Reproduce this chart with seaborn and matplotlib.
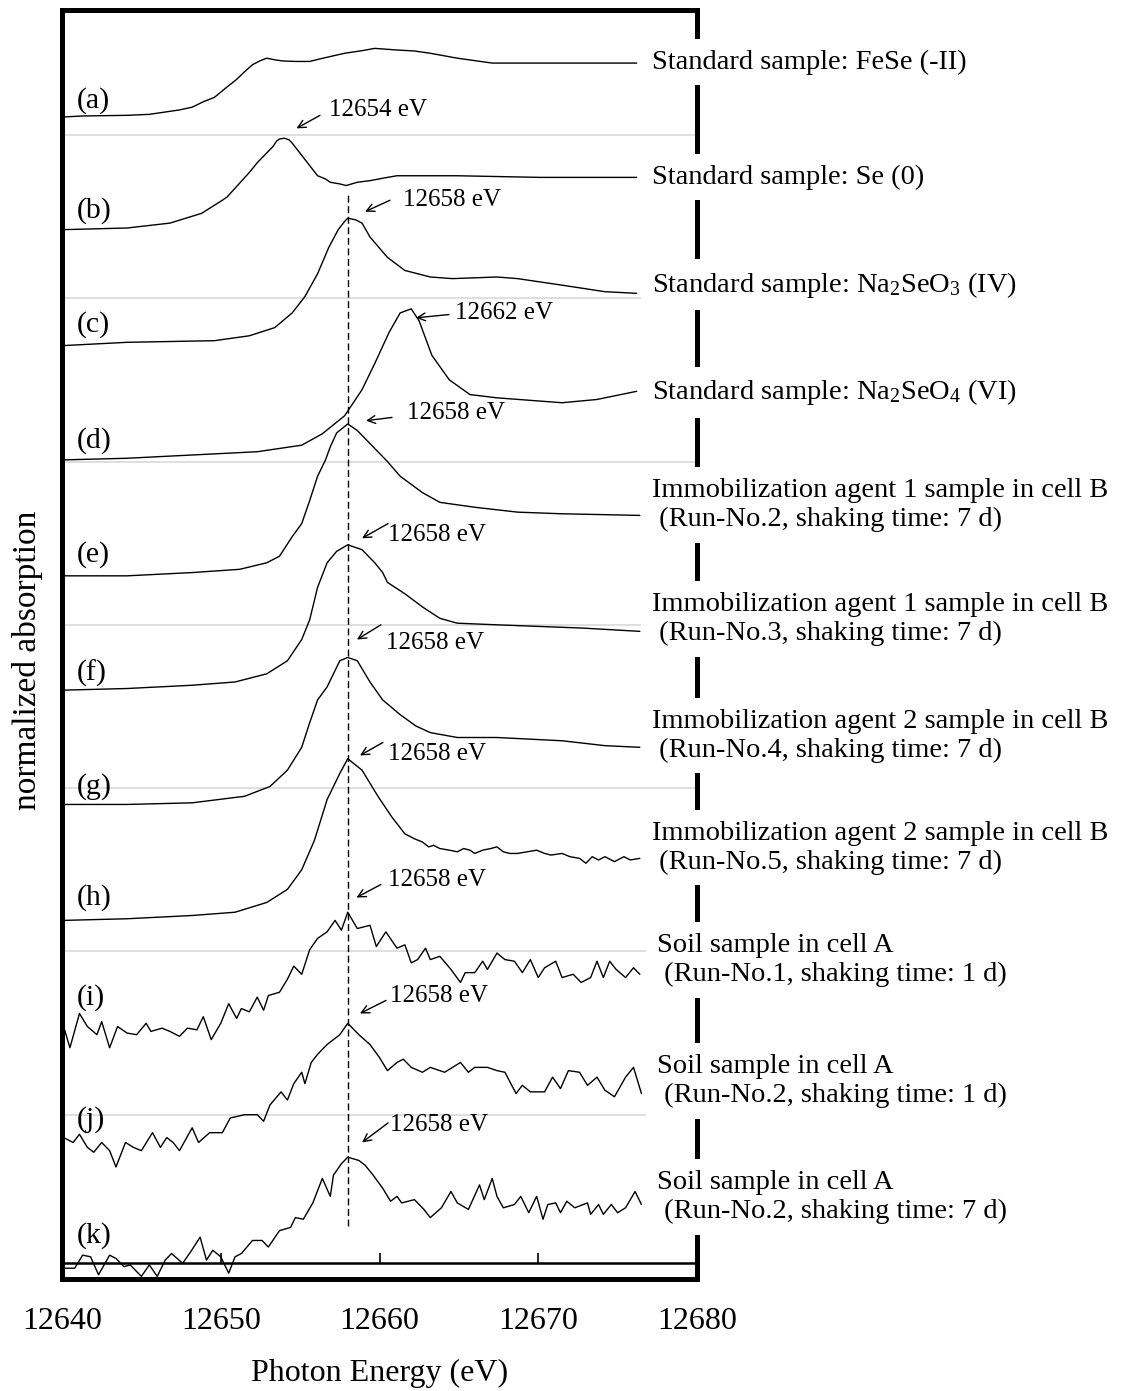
import matplotlib
matplotlib.use("Agg")
import matplotlib.pyplot as plt
import pandas as pd
import seaborn as sns

# ---------------------------------------------------------------------------
# Se K-edge XANES spectra (photon energy in eV, normalized absorption
# measured from each trace's own pre-edge baseline)
# ---------------------------------------------------------------------------
trace_ids = ["a", "b", "c", "d", "e", "f", "g", "h", "i", "j", "k"]
trace_offsets = [7.1, 6.4, 5.7, 5.0, 4.3, 3.6, 2.9, 2.2, 1.5, 0.8, 0.1]

energy_a = [12640.1, 12641.3, 12644.1, 12645.5, 12647.4, 12648.2, 12648.9, 12649.6,
            12650.3, 12651.0, 12651.5, 12652.0, 12652.5, 12652.9, 12653.4, 12653.9,
            12654.7, 12655.6, 12656.4, 12657.8, 12658.9, 12659.7, 12661.1, 12662.2,
            12663.2, 12664.9, 12666.0, 12667.1, 12676.2]
absorb_a = [0.01, 0.016, 0.02, 0.026, 0.053, 0.07, 0.103, 0.13,
            0.186, 0.24, 0.287, 0.33, 0.355, 0.37, 0.36, 0.353,
            0.35, 0.35, 0.369, 0.40, 0.416, 0.43, 0.42, 0.414,
            0.40, 0.37, 0.355, 0.34, 0.34]

energy_b = [12640.1, 12644.1, 12646.8, 12648.8, 12650.1, 12650.4, 12651.8, 12652.3,
            12652.9, 12653.3, 12653.5, 12653.7, 12654.0, 12654.3, 12654.5, 12654.9,
            12655.3, 12655.7, 12656.1, 12656.6, 12656.9, 12657.5, 12657.9, 12658.6,
            12659.4, 12660.5, 12661.1, 12664.9, 12670.1, 12676.2]
absorb_b = [0.02, 0.03, 0.06, 0.12, 0.20, 0.22, 0.37, 0.43,
            0.49, 0.53, 0.56, 0.575, 0.58, 0.57, 0.55, 0.50,
            0.45, 0.40, 0.35, 0.33, 0.31, 0.30, 0.29, 0.31,
            0.32, 0.34, 0.35, 0.35, 0.34, 0.34]

energy_c = [12640.1, 12644.1, 12649.6, 12651.8, 12653.4, 12654.5, 12655.3, 12656.1,
            12656.8, 12657.4, 12657.8, 12658.0, 12658.5, 12658.9, 12659.4, 12660.5,
            12661.6, 12663.2, 12664.6, 12667.4, 12668.7, 12671.5, 12674.2, 12676.2]
absorb_c = [0.01, 0.03, 0.04, 0.07, 0.12, 0.21, 0.31, 0.45,
            0.61, 0.72, 0.77, 0.79, 0.78, 0.76, 0.675, 0.55,
            0.47, 0.43, 0.42, 0.43, 0.42, 0.38, 0.34, 0.33]

energy_d = [12640.1, 12644.1, 12648.2, 12652.3, 12655.1, 12656.4, 12657.8, 12658.9,
            12659.7, 12660.6, 12661.3, 12662.0, 12662.5, 12663.3, 12664.4, 12665.7,
            12667.4, 12671.5, 12673.7, 12676.2]
absorb_d = [0.01, 0.02, 0.04, 0.06, 0.10, 0.17, 0.28, 0.44,
            0.60, 0.79, 0.91, 0.935, 0.86, 0.65, 0.50, 0.41,
            0.39, 0.36, 0.38, 0.43]

energy_e = [12640.1, 12644.1, 12648.2, 12651.2, 12652.9, 12653.7, 12654.5, 12655.1,
            12655.6, 12656.1, 12656.6, 12656.9, 12657.3, 12658.0, 12658.6, 12659.4,
            12660.5, 12661.3, 12662.7, 12663.8, 12666.0, 12668.7, 12671.5, 12676.4]
absorb_e = [0.00, 0.00, 0.02, 0.04, 0.08, 0.12, 0.24, 0.32,
            0.46, 0.61, 0.71, 0.79, 0.875, 0.93, 0.89, 0.81,
            0.70, 0.61, 0.51, 0.45, 0.42, 0.39, 0.38, 0.37]

energy_f = [12640.1, 12644.1, 12648.2, 12650.9, 12652.9, 12654.2, 12655.1, 12655.6,
            12656.1, 12656.7, 12657.3, 12658.0, 12658.9, 12659.7, 12660.2, 12660.5,
            12661.6, 12662.7, 12663.8, 12664.9, 12667.4, 12670.1, 12672.8, 12676.4]
absorb_f = [0.00, 0.01, 0.03, 0.05, 0.10, 0.18, 0.31, 0.43,
            0.63, 0.78, 0.85, 0.89, 0.86, 0.78, 0.72, 0.66,
            0.59, 0.51, 0.44, 0.41, 0.40, 0.39, 0.38, 0.36]

energy_g = [12640.1, 12644.1, 12648.2, 12651.5, 12653.1, 12654.2, 12655.1, 12655.6,
            12656.1, 12656.7, 12657.5, 12658.0, 12658.6, 12659.4, 12660.2, 12661.3,
            12662.3, 12663.2, 12664.9, 12667.4, 12671.5, 12674.2, 12676.4]
absorb_g = [0.00, 0.00, 0.01, 0.05, 0.11, 0.21, 0.35, 0.50,
            0.64, 0.72, 0.88, 0.90, 0.88, 0.75, 0.64, 0.55,
            0.48, 0.44, 0.41, 0.41, 0.39, 0.36, 0.35]

energy_h = [12640.1, 12644.1, 12648.2, 12650.9, 12652.9, 12654.2, 12655.1, 12655.9,
            12656.7, 12657.5, 12658.0, 12658.9, 12659.9, 12660.8, 12661.6, 12662.2,
            12662.7, 12663.1, 12663.4, 12663.8, 12664.4, 12664.9, 12665.3, 12665.7,
            12666.0, 12666.5, 12667.0, 12667.4, 12667.8, 12668.2, 12668.7, 12669.3,
            12669.9, 12670.4, 12670.8, 12671.5, 12672.0, 12672.6, 12673.0, 12673.4,
            12673.8, 12674.2, 12674.8, 12675.4, 12675.8, 12676.4]
absorb_h = [-0.01, 0.00, 0.02, 0.04, 0.10, 0.18, 0.30, 0.48,
            0.73, 0.89, 0.98, 0.91, 0.75, 0.62, 0.52, 0.49,
            0.47, 0.44, 0.45, 0.43, 0.42, 0.41, 0.43, 0.42,
            0.40, 0.42, 0.43, 0.44, 0.41, 0.40, 0.40, 0.41,
            0.42, 0.40, 0.39, 0.40, 0.38, 0.37, 0.34, 0.38,
            0.36, 0.38, 0.35, 0.38, 0.36, 0.37]

energy_i = [12640.1, 12640.5, 12641.1, 12641.6, 12642.2, 12642.5, 12643.0, 12643.5, 12644.1, 12644.7,
            12645.3, 12645.6, 12646.3, 12646.8, 12647.4, 12647.9, 12648.5, 12648.9, 12649.4, 12650.0,
            12650.5, 12651.0, 12651.3, 12651.8, 12652.3, 12652.7, 12653.0, 12653.7, 12654.2, 12654.6,
            12655.1, 12655.6, 12656.1, 12656.7, 12657.2, 12657.6, 12658.0, 12658.6, 12659.4, 12659.8,
            12660.4, 12661.1, 12661.6, 12662.0, 12662.4, 12662.9, 12663.2, 12663.8, 12664.5, 12665.1,
            12665.4, 12666.0, 12666.5, 12666.8, 12667.4, 12667.9, 12668.5, 12669.0, 12669.5, 12670.0,
            12670.4, 12671.1, 12671.5, 12672.2, 12672.7, 12673.3, 12673.7, 12674.1, 12674.5, 12674.9,
            12675.5, 12676.0, 12676.4]
absorb_i = [0.04, -0.09, 0.12, 0.04, -0.01, 0.07, -0.09, 0.04, 0.00, -0.01,
            0.06, 0.01, 0.03, 0.01, -0.02, 0.03, 0.02, 0.10, -0.04, 0.06,
            0.18, 0.09, 0.15, 0.13, 0.22, 0.14, 0.23, 0.25, 0.33, 0.41,
            0.36, 0.51, 0.58, 0.62, 0.69, 0.63, 0.74, 0.64, 0.66, 0.53,
            0.62, 0.52, 0.54, 0.43, 0.45, 0.52, 0.45, 0.47, 0.39, 0.31,
            0.37, 0.37, 0.44, 0.39, 0.49, 0.45, 0.44, 0.37, 0.45, 0.34,
            0.40, 0.44, 0.34, 0.36, 0.31, 0.34, 0.44, 0.34, 0.44, 0.39,
            0.34, 0.40, 0.36]

energy_j = [12640.1, 12640.7, 12641.1, 12641.6, 12642.0, 12642.5, 12643.0, 12643.4, 12644.0, 12644.5,
            12645.0, 12645.7, 12646.2, 12646.6, 12647.0, 12647.4, 12647.8, 12648.2, 12648.6, 12649.3,
            12650.1, 12650.6, 12651.5, 12652.3, 12652.7, 12653.1, 12653.8, 12654.2, 12654.6, 12655.1,
            12655.3, 12655.7, 12656.1, 12656.7, 12657.5, 12658.0, 12658.7, 12659.4, 12660.0, 12660.5,
            12661.1, 12661.5, 12662.0, 12662.7, 12663.2, 12664.1, 12665.1, 12665.6, 12666.0, 12666.8,
            12667.4, 12667.9, 12668.6, 12669.0, 12669.5, 12670.4, 12670.9, 12671.4, 12671.9, 12672.6,
            12673.1, 12673.7, 12674.2, 12674.8, 12675.5, 12676.0, 12676.5]
absorb_j = [0.06, 0.03, 0.08, 0.00, -0.03, 0.03, -0.02, -0.12, 0.03, 0.00,
            -0.02, 0.09, 0.00, 0.06, 0.03, -0.02, 0.05, 0.12, 0.03, 0.09,
            0.09, 0.18, 0.20, 0.20, 0.16, 0.26, 0.34, 0.29, 0.39, 0.46,
            0.39, 0.52, 0.57, 0.63, 0.69, 0.76, 0.69, 0.63, 0.55, 0.47,
            0.52, 0.54, 0.49, 0.46, 0.49, 0.46, 0.52, 0.46, 0.49, 0.49,
            0.47, 0.46, 0.33, 0.38, 0.34, 0.34, 0.43, 0.36, 0.47, 0.46,
            0.38, 0.43, 0.35, 0.31, 0.43, 0.49, 0.33]

energy_k = [12640.1, 12640.8, 12641.3, 12641.8, 12642.3, 12643.0, 12643.4, 12643.9, 12644.3, 12645.0,
            12645.5, 12646.0, 12646.5, 12646.9, 12647.6, 12648.1, 12648.7, 12649.1, 12649.5, 12650.0,
            12650.5, 12650.9, 12651.3, 12652.0, 12652.6, 12653.0, 12653.7, 12654.4, 12654.7, 12655.2,
            12655.8, 12656.4, 12656.9, 12657.1, 12657.6, 12658.0, 12658.7, 12659.1, 12659.6, 12660.2,
            12660.7, 12661.1, 12661.4, 12662.2, 12662.8, 12663.2, 12663.9, 12664.5, 12664.9, 12665.6,
            12666.3, 12666.6, 12667.1, 12667.4, 12667.8, 12668.5, 12668.9, 12669.4, 12669.9, 12670.3,
            12670.6, 12671.1, 12671.4, 12671.8, 12672.3, 12673.1, 12673.3, 12673.8, 12674.1, 12674.6,
            12675.0, 12675.5, 12676.1, 12676.5]
absorb_k = [-0.04, -0.04, 0.04, 0.03, -0.08, 0.04, 0.02, -0.03, -0.02, -0.09,
            -0.02, -0.09, 0.01, 0.05, -0.01, 0.06, 0.15, 0.01, 0.07, 0.03,
            -0.07, 0.03, 0.05, 0.13, 0.13, 0.09, 0.19, 0.21, 0.27, 0.26,
            0.36, 0.51, 0.40, 0.53, 0.60, 0.64, 0.62, 0.59, 0.53, 0.45,
            0.37, 0.40, 0.36, 0.38, 0.32, 0.27, 0.33, 0.43, 0.36, 0.32,
            0.47, 0.38, 0.51, 0.40, 0.33, 0.35, 0.40, 0.30, 0.40, 0.26,
            0.35, 0.36, 0.30, 0.37, 0.33, 0.36, 0.29, 0.35, 0.29, 0.35,
            0.30, 0.33, 0.43, 0.35]

energies = [energy_a, energy_b, energy_c, energy_d, energy_e, energy_f,
            energy_g, energy_h, energy_i, energy_j, energy_k]
absorbs = [absorb_a, absorb_b, absorb_c, absorb_d, absorb_e, absorb_f,
           absorb_g, absorb_h, absorb_i, absorb_j, absorb_k]

sample_names = [
    "Standard sample: FeSe (-II)",
    "Standard sample: Se (0)",
    "Standard sample: Na$_2$SeO$_3$ (IV)",
    "Standard sample: Na$_2$SeO$_4$ (VI)",
    "Immobilization agent 1 sample in cell B\n (Run-No.2, shaking time: 7 d)",
    "Immobilization agent 1 sample in cell B\n (Run-No.3, shaking time: 7 d)",
    "Immobilization agent 2 sample in cell B\n (Run-No.4, shaking time: 7 d)",
    "Immobilization agent 2 sample in cell B\n (Run-No.5, shaking time: 7 d)",
    "Soil sample in cell A\n (Run-No.1, shaking time: 1 d)",
    "Soil sample in cell A\n (Run-No.2, shaking time: 1 d)",
    "Soil sample in cell A\n (Run-No.2, shaking time: 7 d)",
]

# white-line peak energies quoted for traces (b) ... (k)
peak_energies = [12654, 12658, 12662, 12658, 12658, 12658, 12658, 12658, 12658, 12658]
reference_edge = 12658

x_ticks = [12640, 12650, 12660, 12670, 12680]

# ---------------------------------------------------------------------------
# layout of the callouts (data coordinates)
# ---------------------------------------------------------------------------
arrow_tail = [(12656.25, 7.12), (12660.66, 6.60), (12664.38, 5.90), (12660.79, 5.27),
              (12660.54, 4.62), (12660.09, 4.00), (12660.22, 3.28), (12660.09, 2.41),
              (12660.41, 1.70), (12660.54, 0.95)]
arrow_tip = [(12654.77, 7.04), (12659.09, 6.53), (12662.30, 5.88), (12659.15, 5.25),
             (12658.90, 4.53), (12658.58, 3.91), (12658.77, 3.20), (12658.55, 2.33),
             (12658.77, 1.62), (12658.90, 0.83)]
callout_text = [(12656.82, 7.15), (12661.48, 6.60), (12664.76, 5.91), (12661.73, 5.30),
                (12660.54, 4.55), (12660.41, 3.89), (12660.54, 3.21), (12660.54, 2.44),
                (12660.66, 1.73), (12660.66, 0.94)]
panel_label_y = [7.21, 6.54, 5.84, 5.13, 4.43, 3.70, 3.01, 2.33, 1.72, 0.97, 0.26]
sample_label_y = [7.446, 6.742, 6.084, 5.423, 4.734, 4.035, 3.322, 2.636, 1.947, 1.206, 0.496]
sample_label_x = [12677.17] * 8 + [12677.5] * 3

# ---------------------------------------------------------------------------
sns.set_theme(style="white")
plt.rcParams["font.family"] = ["Liberation Serif", "DejaVu Serif"]
plt.rcParams["mathtext.fontset"] = "custom"
plt.rcParams["mathtext.rm"] = "Liberation Serif"
plt.rcParams["mathtext.it"] = "Liberation Serif:italic"

rows = []
for tid, off, es, vs in zip(trace_ids, trace_offsets, energies, absorbs):
    for e, v in zip(es, vs):
        rows.append({"trace": tid, "energy": e, "signal": v + off})
spectra = pd.DataFrame(rows)

fig = plt.figure(figsize=(11.25, 13.91), dpi=100)
ax = fig.add_axes([62 / 1125, 1 - 1279 / 1391, 635 / 1125, 1269 / 1391])

sns.lineplot(data=spectra, x="energy", y="signal", units="trace", estimator=None,
             sort=False, color="black", linewidth=1.0, legend=False, ax=ax, zorder=3)

ax.set_xlim(12640, 12680)
ax.set_ylim(-0.006, 7.765)

# light separators between the stacked traces
ax.set_yticks(range(1, 8))
ax.yaxis.grid(True, color="#d9d9d9", linewidth=1.2)
ax.xaxis.grid(False)
ax.set_axisbelow(True)
ax.tick_params(axis="y", length=0, labelleft=False)

ax.set_xticks(x_ticks)
ax.set_xticklabels([str(t) for t in x_ticks])
ax.tick_params(axis="x", length=0, pad=20, labelsize=23, colors="black")
ax.set_xlabel("Photon Energy (eV)", fontsize=23, labelpad=17, color="black")
ax.set_ylabel("")
ax.text(-0.0551, 0.4878, "normalized absorption", transform=ax.transAxes,
        rotation=90, ha="center", va="center", fontsize=24, color="black")

for side in ["left", "right", "top", "bottom"]:
    ax.spines[side].set_visible(True)
    ax.spines[side].set_color("black")
    ax.spines[side].set_linewidth(3.6)

# axis line crossing just above the frame, with its tick marks
axis_cross = 0.09
ax.axhline(axis_cross, color="black", linewidth=1.8, zorder=2)
ax.vlines(x_ticks[1:-1], axis_cross, axis_cross + 0.065, colors="black", linewidth=1.2)

# common edge position
ax.vlines(reference_edge, 0.32, 6.63, colors="black", linestyles=(0, (5, 2.6)),
          linewidth=1.0, zorder=2)

for pe, tail, tip, tpos in zip(peak_energies, arrow_tail, arrow_tip, callout_text):
    ax.annotate("", xy=tip, xytext=tail,
                arrowprops=dict(arrowstyle="->", color="black", lw=1.0,
                                shrinkA=0, shrinkB=0, mutation_scale=14))
    ax.text(tpos[0], tpos[1], f"{pe} eV", fontsize=18, ha="left", va="center",
            color="black")

for tid, y in zip(trace_ids, panel_label_y):
    ax.text(12640.95, y, f"({tid})", fontsize=21.5, ha="left", va="center",
            color="black")

for name, x, y in zip(sample_names, sample_label_x, sample_label_y):
    ax.text(x, y, name, fontsize=20.5, ha="left", va="center", linespacing=1.2,
            color="black", zorder=6, clip_on=False,
            bbox=dict(boxstyle="square,pad=0.38", facecolor="white", edgecolor="none"))

fig.savefig("out.png", dpi=100, facecolor="white")
